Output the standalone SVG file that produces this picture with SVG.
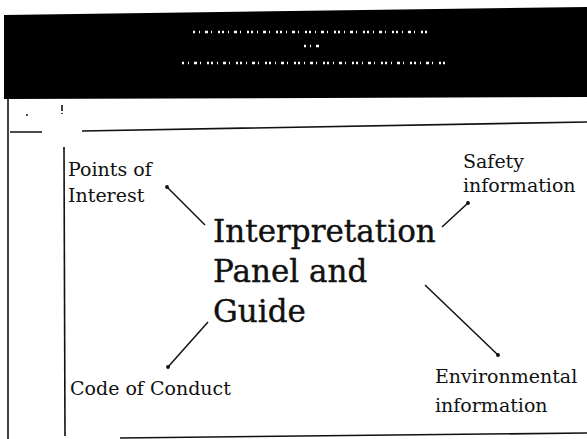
<svg xmlns="http://www.w3.org/2000/svg" width="587" height="439" viewBox="0 0 587 439">
<style>
.lbl{font-family:"DejaVu Serif","Liberation Serif",serif;font-size:19px;fill:#111}
.ttl{font-family:"DejaVu Serif","Liberation Serif",serif;font-size:31px;fill:#111;stroke:#111;stroke-width:0.4}
.rule{stroke:#111;stroke-width:1.6;fill:none}
.conn{stroke:#111;stroke-width:1.5;fill:none}
.speck{stroke:#fff;stroke-width:2.4;stroke-dasharray:2 4 1 5 3 3 1 6 2 2;fill:none}
</style>
<defs>
<marker id="dot" viewBox="0 0 4 4" refX="2" refY="2" markerWidth="2.6" markerHeight="2.6" markerUnits="strokeWidth"><circle cx="2" cy="2" r="2" fill="#111"/></marker>
</defs>
<rect width="587" height="439" fill="#fff"/>
<g id="header">
<polygon points="4,15 587,7 587,97 4,99" fill="#000"/>
<path class="speck" d="M193 32 H430 M304 46 H320 M182 63 H445"/>
</g>
<g id="frame">
<path class="rule" d="M8 99 L8 439"/>
<path class="rule" d="M64 147 L65 436"/>
<path class="rule" d="M10 132 L42 132 M82 131 L587 122"/>
<path class="rule" d="M120 438 L587 433"/>
<path class="rule" d="M62 105 V111 M62 113 V114"/>
<circle cx="27" cy="115" r="1" fill="#111"/>
</g>
<g id="connectors">
<line class="conn" x1="205" y1="225" x2="167" y2="187" marker-end="url(#dot)"/>
<line class="conn" x1="442" y1="227" x2="468" y2="203" marker-end="url(#dot)"/>
<line class="conn" x1="208" y1="322" x2="168" y2="367" marker-end="url(#dot)"/>
<line class="conn" x1="425" y1="285" x2="498" y2="355" marker-end="url(#dot)"/>
</g>
<g id="center">
<text class="ttl" x="213" y="242">Interpretation</text>
<text class="ttl" x="213" y="282">Panel and</text>
<text class="ttl" x="213" y="322">Guide</text>
</g>
<g id="points">
<text class="lbl" x="68" y="176">Points of</text>
<text class="lbl" x="68" y="202">Interest</text>
</g>
<g id="safety">
<text class="lbl" x="463" y="168">Safety</text>
<text class="lbl" x="463" y="192">information</text>
</g>
<g id="code">
<text class="lbl" x="70" y="395">Code of Conduct</text>
</g>
<g id="environment">
<text class="lbl" x="435" y="383">Environmental</text>
<text class="lbl" x="435" y="412">information</text>
</g>
</svg>
